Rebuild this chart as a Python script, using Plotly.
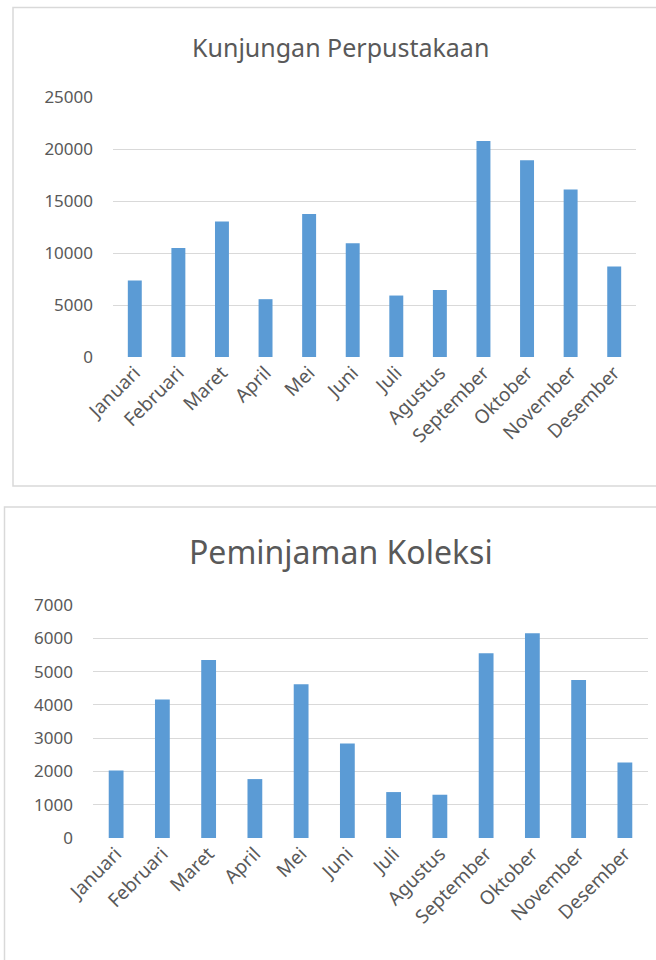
import plotly.graph_objects as go

months = ["Januari", "Februari", "Maret", "April", "Mei", "Juni", "Juli",
          "Agustus", "September", "Oktober", "November", "Desember"]
kunjungan = [7350, 10480, 13030, 5560, 13740, 10930, 5910, 6450, 20770, 18910, 16100, 8690]
peminjaman = [2030, 4160, 5350, 1770, 4620, 2840, 1380, 1300, 5550, 6150, 4750, 2270]
ticks_top = [0, 5000, 10000, 15000, 20000, 25000]
ticks_bottom = [0, 1000, 2000, 3000, 4000, 5000, 6000, 7000]

W, H = 656, 960
FONT = "Noto Sans"
GREY = "#595959"
BAR = "#5B9BD5"
GRID = "#D9D9D9"

def px(x):
    return x / W

def py(y):
    return 1 - y / H

fig = go.Figure()
fig.add_trace(go.Bar(x=months, y=kunjungan, marker=dict(color=BAR, line=dict(width=0)),
                     width=0.32, xaxis="x", yaxis="y", showlegend=False))
fig.add_trace(go.Bar(x=months, y=peminjaman, marker=dict(color=BAR, line=dict(width=0)),
                     width=0.32, xaxis="x2", yaxis="y2", showlegend=False))

xcommon = dict(showline=False, zeroline=False, ticks="", automargin=False,
               showgrid=False, tickangle=-45,
               tickfont=dict(family=FONT, size=19, color=GREY))
ycommon = dict(showline=False, zeroline=False, ticks="", automargin=False,
               showgrid=True, gridcolor=GRID, gridwidth=1.3, tickformat="d",
               ticklabelstandoff=19,
               tickfont=dict(family=FONT, size=17, color=GREY))

fig.update_layout(
    width=W, height=H,
    margin=dict(l=0, r=0, t=0, b=0, pad=0),
    paper_bgcolor="white", plot_bgcolor="white",
    xaxis=dict(domain=[px(113), px(636)], anchor="y", **xcommon),
    yaxis=dict(domain=[py(357), py(97)], anchor="x", range=[0, 25000],
               tickvals=ticks_top, **ycommon),
    xaxis2=dict(domain=[px(93), px(648)], anchor="y2", **xcommon),
    yaxis2=dict(domain=[py(838), py(605)], anchor="x2", range=[0, 7000],
                tickvals=ticks_bottom, **ycommon),
    annotations=[
        dict(text="Kunjungan Perpustakaan", x=px(340), y=py(47), xref="paper", yref="paper",
             showarrow=False, xanchor="center", yanchor="middle",
             font=dict(family=FONT, size=25, color=GREY)),
        dict(text="Peminjaman Koleksi", x=px(341), y=py(551), xref="paper", yref="paper",
             showarrow=False, xanchor="center", yanchor="middle",
             font=dict(family=FONT, size=32, color=GREY)),
    ],
    shapes=[
        dict(type="rect", xref="paper", yref="paper", x0=px(13), x1=px(700),
             y0=py(486), y1=py(7.5), line=dict(color=GRID, width=1.5), layer="below"),
        dict(type="rect", xref="paper", yref="paper", x0=px(4.5), x1=px(700),
             y0=py(1000), y1=py(507), line=dict(color=GRID, width=1.5), layer="below"),
    ],
)

fig.write_html("out.html", config={"displayModeBar": False},
               post_script="document.body.style.margin='0';")
